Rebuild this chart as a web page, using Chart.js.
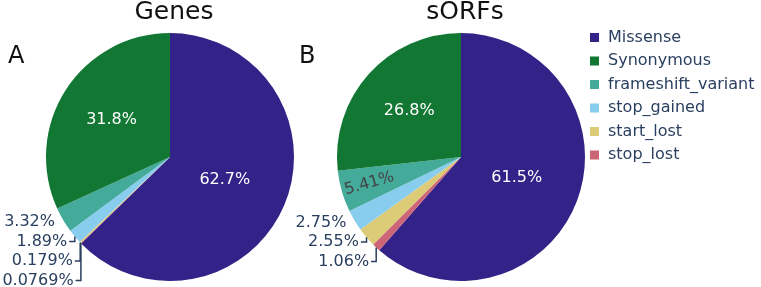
<!DOCTYPE html>
<html>
<head>
<meta charset="utf-8">
<script src="https://cdn.jsdelivr.net/npm/chart.js@4"></script>
<style>
  html, body { margin: 0; padding: 0; background: #fff; }
  #wrap { position: relative; width: 761px; height: 287px; overflow: hidden; }
  canvas { position: absolute; top: 0; }
</style>
</head>
<body>
<div id="wrap">
  <canvas id="genes" width="300" height="287" style="left:0px"></canvas>
  <canvas id="sorfs" width="470" height="287" style="left:291px"></canvas>
</div>
<script>
const categories = ["Missense", "Synonymous", "frameshift_variant", "stop_gained", "start_lost", "stop_lost"];
const genesPct = [62.7, 31.8, 3.32, 1.89, 0.179, 0.0769];
const sorfsPct = [61.5, 26.8, 5.41, 2.75, 2.55, 1.06];
const colors = ["#332288", "#117733", "#44AA99", "#88CCEE", "#DDCC77", "#CC6677"];
// slices go clockwise from 12 o'clock in this order
const drawOrder = [0, 5, 4, 3, 2, 1];

const FONT = "'DejaVu Sans', Verdana, sans-serif";
const TEXT = "#2a3f5f";

// percentage labels inside / outside the slices
const sliceLabels = {
  id: "sliceLabels",
  afterDatasetsDraw(chart) {
    const ctx = chart.ctx;
    const meta = chart.getDatasetMeta(0);
    const values = chart.data.datasets[0].data;
    const outside = [];
    ctx.save();
    ctx.font = "16px " + FONT;
    ctx.textBaseline = "middle";
    meta.data.forEach((arc, i) => {
      const p = arc.getProps(["x", "y", "startAngle", "endAngle", "outerRadius"], true);
      const mid = (p.startAngle + p.endAngle) / 2;
      const R = p.outerRadius;
      const v = values[i];
      const txt = v + "%";
      const cx = Math.cos(mid), cy = Math.sin(mid);
      if (v >= 10) {
        const f = v > 50 ? 0.48 : 0.56;
        ctx.fillStyle = "#fff";
        ctx.textAlign = "center";
        ctx.fillText(txt, p.x + cx * R * f, p.y + cy * R * f);
      } else if (v >= 4) {
        ctx.save();
        ctx.translate(p.x + cx * R * 0.77, p.y + cy * R * 0.77);
        ctx.rotate(cx < 0 ? mid - Math.PI : mid);
        ctx.fillStyle = "#444";
        ctx.textAlign = "center";
        ctx.fillText(txt, 0, 0);
        ctx.restore();
      } else {
        outside.push({
          txt,
          ex: p.x + cx * R, ey: p.y + cy * R,
          x: p.x + cx * (R + 6) - 3, y: p.y + cy * (R + 6) - 1
        });
      }
    });
    outside.sort((a, b) => a.y - b.y);
    ctx.fillStyle = TEXT;
    ctx.strokeStyle = TEXT;
    ctx.lineWidth = 1.5;
    ctx.textAlign = "right";
    let prev = null;
    outside.forEach((l) => {
      let pushed = false;
      if (prev && l.y < prev.y + 19.5) { l.y = prev.y + 19.5; pushed = true; }
      ctx.fillText(l.txt, l.x, l.y);
      if (pushed) {
        ctx.beginPath();
        ctx.moveTo(l.x + 2, l.y);
        ctx.lineTo(l.ex, l.y);
        ctx.lineTo(l.ex, l.ey);
        ctx.stroke();
      }
      prev = l;
    });
    ctx.restore();
  }
};

// title, panel letter and legend
const decor = {
  id: "decor",
  afterDraw(chart, args, opts) {
    const ctx = chart.ctx;
    ctx.save();
    ctx.fillStyle = "#111";
    ctx.font = "25px " + FONT;
    ctx.textBaseline = "alphabetic";
    ctx.textAlign = "center";
    ctx.fillText(opts.title, 174, 19);
    ctx.font = "24px " + FONT;
    ctx.textAlign = "left";
    ctx.fillText(opts.letter, 8, 63);
    if (opts.legend) {
      ctx.font = "16px " + FONT;
      ctx.textBaseline = "middle";
      categories.forEach((c, i) => {
        const y = 37.5 + i * 23.5;
        ctx.fillStyle = colors[i];
        ctx.fillRect(299, y - 4.5, 9, 9);
        ctx.fillStyle = TEXT;
        ctx.fillText(c, 317, y);
      });
    }
    ctx.restore();
  }
};

function makePie(id, values, title, letter, rightPad, legend) {
  new Chart(document.getElementById(id), {
    type: "pie",
    data: {
      labels: drawOrder.map((i) => categories[i]),
      datasets: [{
        data: drawOrder.map((i) => values[i]),
        backgroundColor: drawOrder.map((i) => colors[i]),
        borderWidth: 0,
        hoverOffset: 0,
      }],
    },
    options: {
      responsive: false,
      animation: false,
      events: [],
      devicePixelRatio: 1,
      layout: { padding: { left: 46, right: rightPad, top: 33, bottom: 6 } },
      plugins: {
        legend: { display: false },
        title: { display: false },
        tooltip: { enabled: false },
        decor: { title: title, letter: letter, legend: legend },
      },
    },
    plugins: [sliceLabels, decor],
  });
}

makePie("genes", genesPct, "Genes", "A", 6, false);
makePie("sorfs", sorfsPct, "sORFs", "B", 176, true);
</script>
</body>
</html>
